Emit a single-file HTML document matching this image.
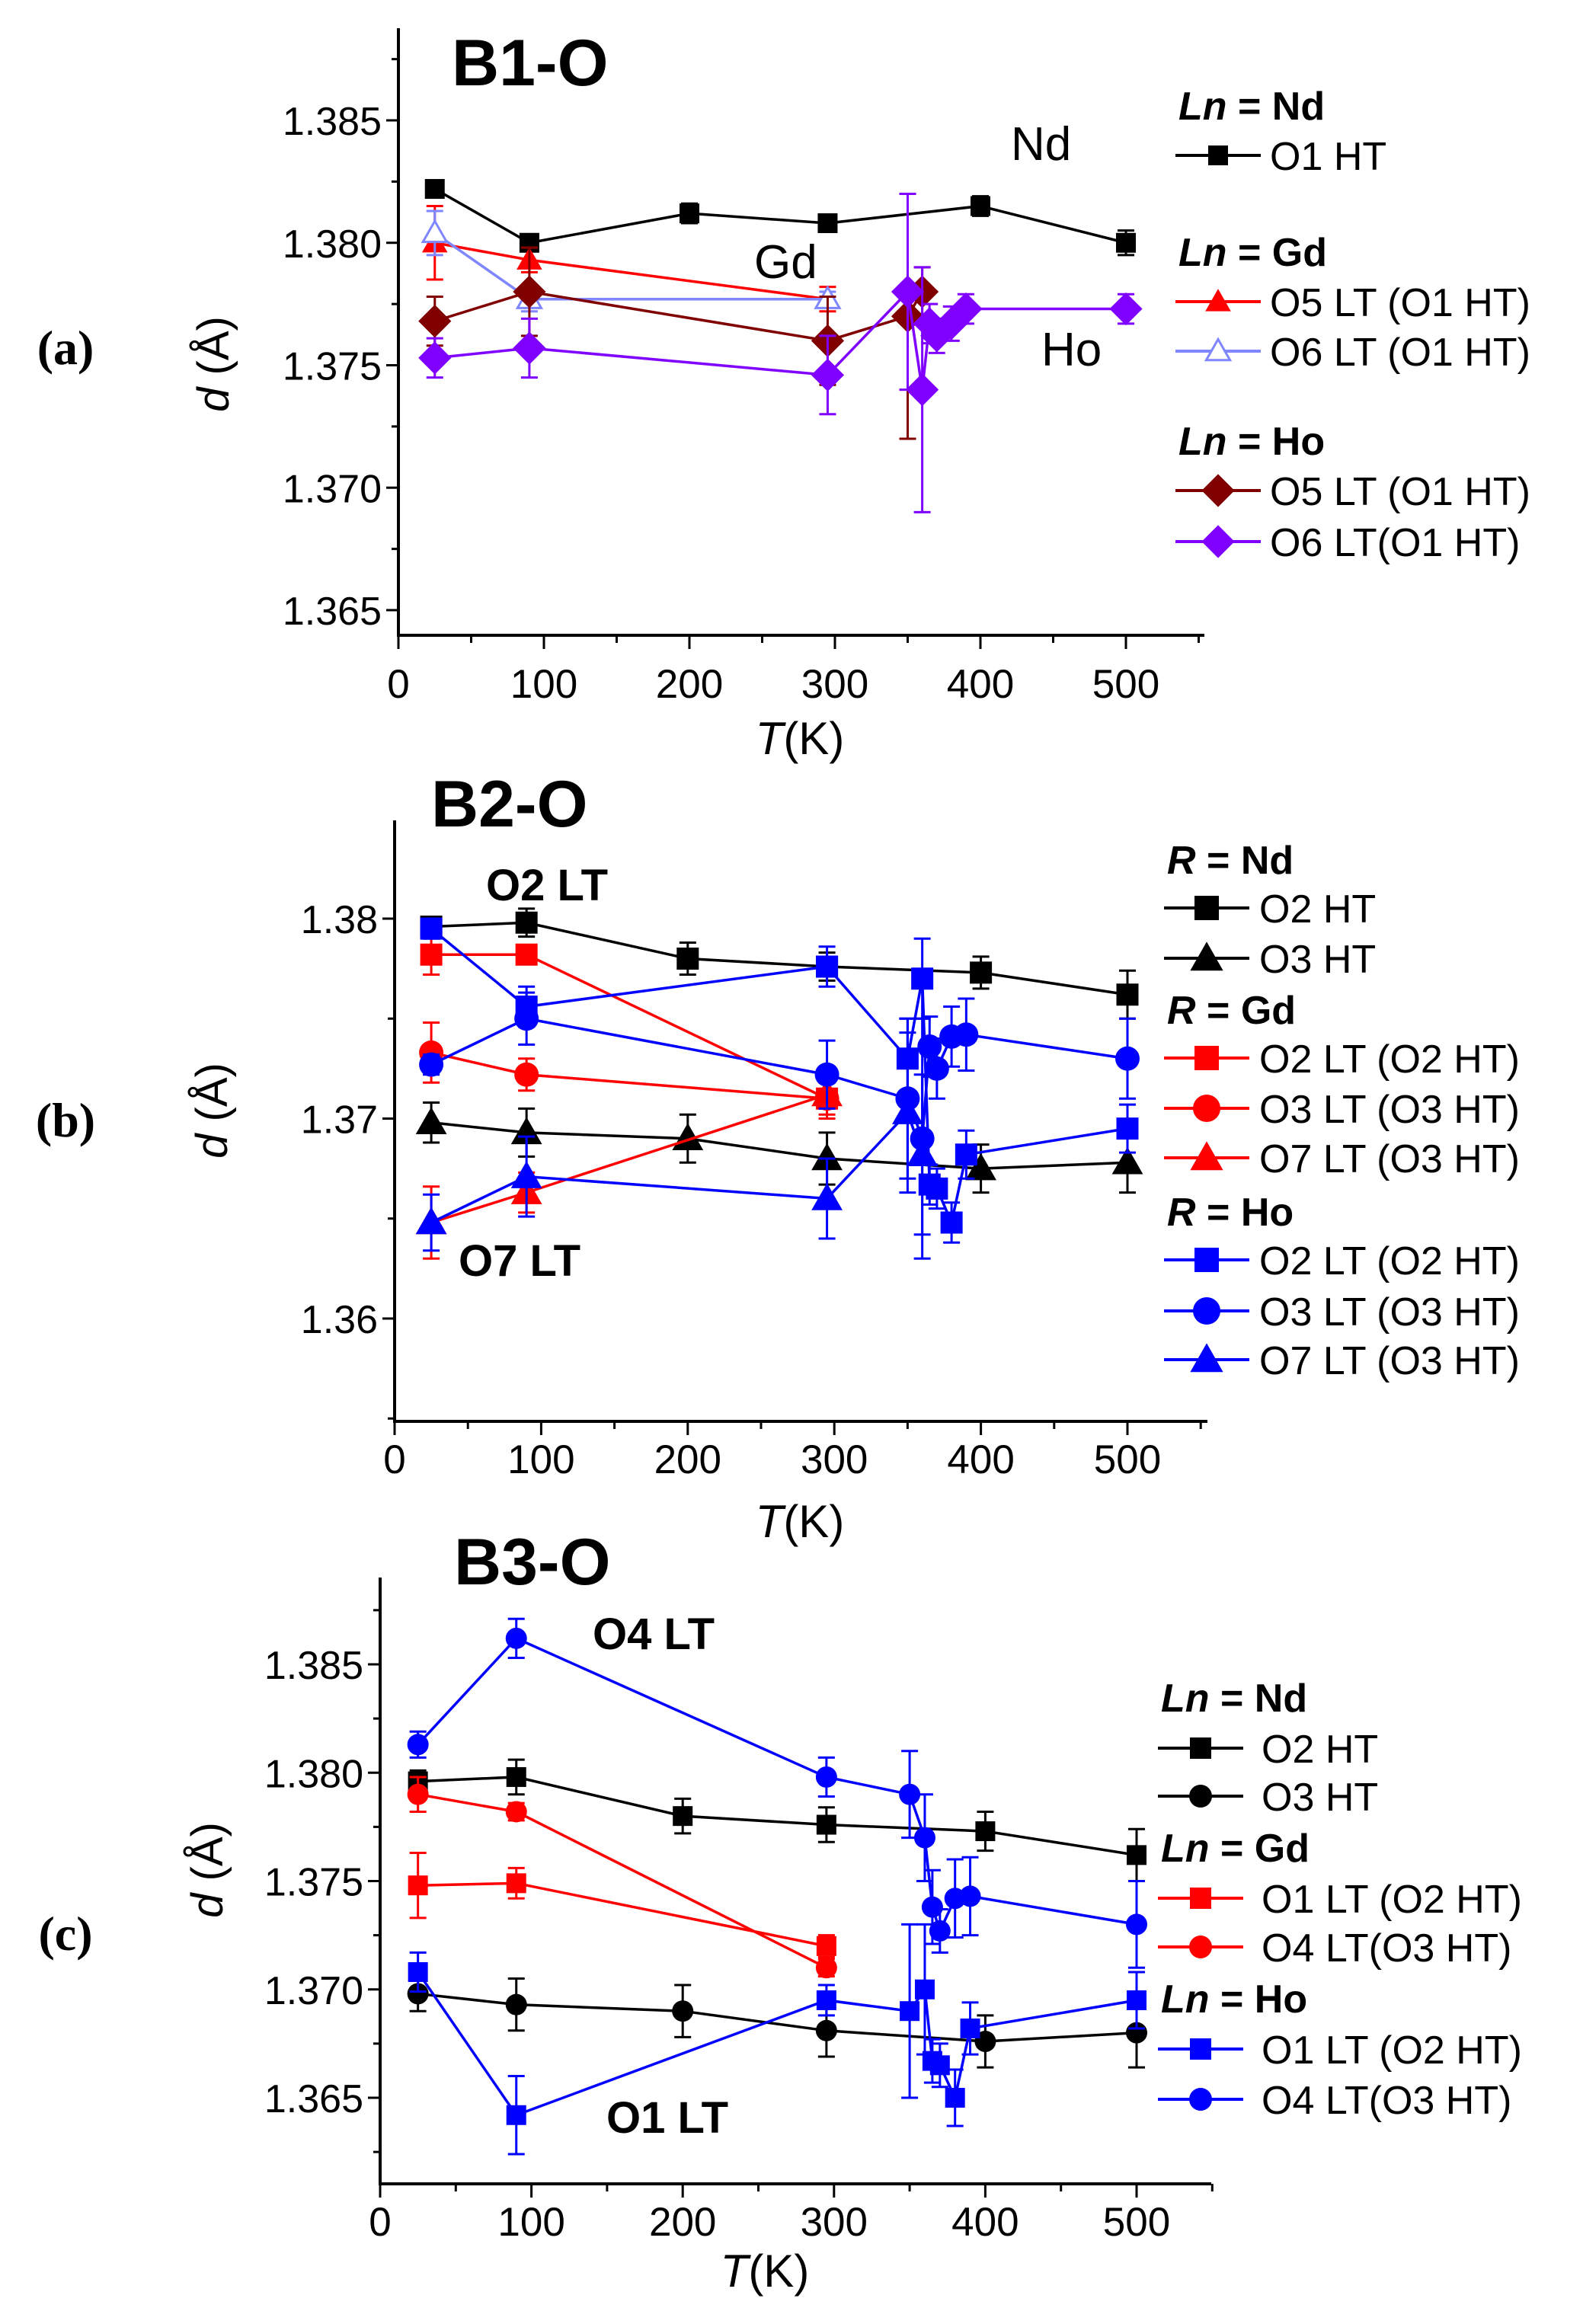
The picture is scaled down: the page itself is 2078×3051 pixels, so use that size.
<!DOCTYPE html>
<html><head><meta charset="utf-8">
<style>
html,body{margin:0;padding:0;background:#fff;}
svg{display:block;font-family:"Liberation Sans",Arial,sans-serif;}
</style></head>
<body>
<svg id="fig" width="2078" height="3051" viewBox="0 0 2078 3051" xmlns="http://www.w3.org/2000/svg">
<rect x="0" y="0" width="2078" height="3051" fill="#fff"/>
<g id="static">
  <text x="86" y="478" font-family="Liberation Serif,serif" font-weight="bold" font-size="64" text-anchor="middle">(a)</text>
  <text x="86" y="1492" font-family="Liberation Serif,serif" font-weight="bold" font-size="64" text-anchor="middle">(b)</text>
  <text x="86" y="2560" font-family="Liberation Serif,serif" font-weight="bold" font-size="64" text-anchor="middle">(c)</text>
  <text x="593" y="112" font-weight="bold" font-size="86">B1-O</text>
  <text x="566" y="1085" font-weight="bold" font-size="86">B2-O</text>
  <text x="596" y="2080" font-weight="bold" font-size="86">B3-O</text>
  <text x="1327" y="210" font-size="62">Nd</text>
  <text x="990" y="365" font-size="62">Gd</text>
  <text x="1367" y="480" font-size="62">Ho</text>
  <text x="638" y="1182" font-weight="bold" font-size="58">O2 LT</text>
  <text x="602" y="1675" font-weight="bold" font-size="58">O7 LT</text>
  <text x="778" y="2165" font-weight="bold" font-size="58">O4 LT</text>
  <text x="796" y="2800" font-weight="bold" font-size="58">O1 LT</text>
</g>
<g id="plot"></g>
</svg>
<script>
// ---------- data (T in K, d in Å) ----------
// Panel a
const aT_NdO1 = [25, 90, 200, 295, 400, 500];
const aD_NdO1 = [1.3822, 1.3800, 1.3812, 1.3808, 1.3815, 1.3800];
const aE_NdO1 = [0.0003, 0.0003, 0.0004, 0.0003, 0.0004, 0.0005];
const aT_GdO5 = [25, 90, 295];
const aD_GdO5 = [1.3800, 1.3793, 1.3777];
const aE_GdO5 = [0.0015, 0.0005, 0.0005];
const aT_GdO6 = [25, 90, 295];
const aD_GdO6 = [1.3804, 1.3777, 1.3777];
const aE_GdO6 = [0.0009, 0.0005, 0.0003];
const aT_HoO5 = [25, 90, 295, 350, 360];
const aD_HoO5 = [1.3768, 1.3780, 1.3760, 1.3770, 1.3780];
const aE_HoO5 = [0.0010, 0.0018, 0.0018, 0.0050, 0.0010];
const aT_HoO6 = [25, 90, 295, 350, 360, 365, 370, 380, 390, 500];
const aD_HoO6 = [1.3753, 1.3757, 1.3746, 1.3780, 1.3740, 1.3767, 1.3762, 1.3767, 1.3773, 1.3773];
const aE_HoO6 = [0.0008, 0.0012, 0.0016, 0.0040, 0.0050, 0.0008, 0.0007, 0.0007, 0.0006, 0.0006];
// Panel b
const bT_NdO2 = [25, 90, 200, 295, 400, 500];
const bD_NdO2 = [1.3796, 1.3798, 1.3780, 1.3776, 1.3773, 1.3762];
const bE_NdO2 = [0.0003, 0.0007, 0.0008, 0.0007, 0.0008, 0.0012];
const bT_NdO3 = [25, 90, 200, 295, 400, 500];
const bD_NdO3 = [1.3698, 1.3693, 1.3690, 1.3680, 1.3675, 1.3678];
const bE_NdO3 = [0.0010, 0.0012, 0.0012, 0.0013, 0.0012, 0.0015];
const bT_GdO2 = [25, 90, 295];
const bD_GdO2 = [1.3782, 1.3782, 1.3710];
const bE_GdO2 = [0.0010, 0.0004, 0.0010];
const bT_GdO3 = [25, 90, 295];
const bD_GdO3 = [1.3733, 1.3722, 1.3710];
const bE_GdO3 = [0.0015, 0.0008, 0.0008];
const bT_GdO7 = [25, 90, 295];
const bD_GdO7 = [1.3648, 1.3663, 1.3712];
const bE_GdO7 = [0.0018, 0.0010, 0.0006];
const bT_HoO2 = [25, 90, 295, 350, 360, 365, 370, 380, 390, 500];
const bD_HoO2 = [1.3795, 1.3756, 1.3776, 1.3730, 1.3770, 1.3667, 1.3665, 1.3648, 1.3682, 1.3695];
const bE_HoO2 = [0.0005, 0.0010, 0.0010, 0.0020, 0.0020, 0.0010, 0.0010, 0.0010, 0.0012, 0.0012];
const bT_HoO3 = [25, 90, 295, 350, 360, 365, 370, 380, 390, 500];
const bD_HoO3 = [1.3727, 1.3750, 1.3722, 1.3710, 1.3690, 1.3736, 1.3725, 1.3741, 1.3742, 1.3730];
const bE_HoO3 = [0.0005, 0.0013, 0.0017, 0.0040, 0.0060, 0.0015, 0.0015, 0.0015, 0.0018, 0.0020];
const bT_HoO7 = [25, 90, 295, 350, 360];
const bD_HoO7 = [1.3648, 1.3671, 1.3660, 1.3703, 1.3682];
const bE_HoO7 = [0.0014, 0.0020, 0.0020, 0.0040, 0.0040];
// Panel c
const cT_NdO2 = [25, 90, 200, 295, 400, 500];
const cD_NdO2 = [1.3796, 1.3798, 1.3780, 1.3776, 1.3773, 1.3762];
const cE_NdO2 = [0.0005, 0.0008, 0.0008, 0.0008, 0.0009, 0.0012];
const cT_NdO3 = [25, 90, 200, 295, 400, 500];
const cD_NdO3 = [1.3698, 1.3693, 1.3690, 1.3681, 1.3676, 1.3680];
const cE_NdO3 = [0.0008, 0.0012, 0.0012, 0.0012, 0.0012, 0.0016];
const cT_GdO1 = [25, 90, 295];
const cD_GdO1 = [1.3748, 1.3749, 1.3720];
const cE_GdO1 = [0.0015, 0.0007, 0.0005];
const cT_GdO4 = [25, 90, 295];
const cD_GdO4 = [1.3790, 1.3782, 1.3710];
const cE_GdO4 = [0.0008, 0.0004, 0.0004];
const cT_HoO1 = [25, 90, 295, 350, 360, 365, 370, 380, 390, 500];
const cD_HoO1 = [1.3708, 1.3642, 1.3695, 1.3690, 1.3700, 1.3667, 1.3665, 1.3650, 1.3682, 1.3695];
const cE_HoO1 = [0.0009, 0.0018, 0.0007, 0.0040, 0.0030, 0.0010, 0.0010, 0.0013, 0.0012, 0.0013];
const cT_HoO4 = [25, 90, 295, 350, 360, 365, 370, 380, 390, 500];
const cD_HoO4 = [1.3813, 1.3862, 1.3798, 1.3790, 1.3770, 1.3738, 1.3727, 1.3742, 1.3743, 1.3730];
const cE_HoO4 = [0.0006, 0.0009, 0.0009, 0.0020, 0.0020, 0.0017, 0.0010, 0.0018, 0.0018, 0.0020];
// tick labels
const xTicks = [0, 100, 200, 300, 400, 500];
const aYTicks = ["1.365", "1.370", "1.375", "1.380", "1.385"];
const bYTicks = ["1.36", "1.37", "1.38"];
const cYTicks = ["1.365", "1.370", "1.375", "1.380", "1.385"];

// ---------- layout ----------
const NS = "http://www.w3.org/2000/svg";
const plot = document.getElementById('plot');
function el(tag, attrs, parent) {
  const e = document.createElementNS(NS, tag);
  for (const k in attrs) e.setAttribute(k, attrs[k]);
  (parent || plot).appendChild(e);
  return e;
}
const panels = {
  a: {x0: 523, x500: 1478, xRight: 1581, top: 37, bottom: 834, yv1: 1.365, yp1: 801, yv2: 1.385, yp2: 158, ymaj: 0.005, ymin: 1.365, ymax: 1.3875, ticks: aYTicks, tickBase: 916, ylx: 300, yly: 478, xlx: 1050, xly: 990},
  b: {x0: 518, x500: 1480, xRight: 1585, top: 1077, bottom: 1866, yv1: 1.36, yp1: 1731, yv2: 1.38, yp2: 1206, ymaj: 0.01, ymin: 1.36, ymax: 1.385, ticks: bYTicks, tickBase: 1934, ylx: 298, yly: 1458, xlx: 1050, xly: 2018},
  c: {x0: 499, x500: 1492, xRight: 1590, top: 2071, bottom: 2867, yv1: 1.365, yp1: 2754, yv2: 1.385, yp2: 2185, ymaj: 0.005, ymin: 1.365, ymax: 1.3875, ticks: cYTicks, tickBase: 2935, ylx: 292, yly: 2455, xlx: 1004, xly: 3002}
};
function sx(p, t) { return p.x0 + (p.x500 - p.x0) * t / 500; }
function sy(p, d) { return p.yp1 + (p.yp2 - p.yp1) * (d - p.yv1) / (p.yv2 - p.yv1); }

// axes
for (const key in panels) {
  const p = panels[key];
  const g = el('g', {});
  
  
  el('line', {x1: p.x0, y1: p.top, x2: p.x0, y2: p.bottom, stroke: '#000', 'stroke-width': 4}, g);
  el('line', {x1: p.x0 - 2, y1: p.bottom, x2: p.xRight, y2: p.bottom, stroke: '#000', 'stroke-width': 4}, g);
  for (let t = 0; t <= 550; t += 50) {
    const major = t % 100 === 0;
    el('line', {x1: sx(p, t), y1: p.bottom, x2: sx(p, t), y2: p.bottom + (major ? 18 : 10), stroke: '#000', 'stroke-width': 3}, g);
  }
  xTicks.forEach(function (t) {
    const tx = el('text', {x: sx(p, t), y: p.tickBase, 'font-size': 53, 'text-anchor': 'middle'}, g);
    
    
    tx.textContent = String(t);
  });
  const step = p.ymaj / 2;
  for (let v = p.ymin - step * 2; v <= p.ymax + 1e-9; v += step) {
    const yy = sy(p, v);
    if (yy < p.top - 1 || yy > p.bottom - 2) continue;
    const major = Math.abs(Math.round(v / p.ymaj) * p.ymaj - v) < 1e-7;
    el('line', {x1: p.x0, y1: yy, x2: p.x0 - (major ? 16 : 9), y2: yy, stroke: '#000', 'stroke-width': 3}, g);
  }
  p.ticks.forEach(function (lab) {
    const tx = el('text', {x: p.x0 - 22, y: sy(p, parseFloat(lab)) + 19, 'font-size': 52, 'text-anchor': 'end'}, g);
    
    
    tx.textContent = lab;
  });
  const yl = el('text', {x: 0, y: 0, 'font-size': 58, 'text-anchor': 'middle', transform: 'translate(' + p.ylx + ',' + p.yly + ') rotate(-90)'}, g);
  
  
  yl.innerHTML = '<tspan font-style="italic">d</tspan> (Å)';
  const xl = el('text', {x: p.xlx, y: p.xly, 'font-size': 60, 'text-anchor': 'middle'}, g);
  
  
  xl.innerHTML = '<tspan font-style="italic">T</tspan>(K)';
}

// markers
function marker(g, shape, x, y, s, color, open) {
  const fill = open ? '#fff' : color;
  const sw = open ? 3 : 0;
  if (shape === 'sq') return el('rect', {x: x - s / 2, y: y - s / 2, width: s, height: s, fill: fill, stroke: color, 'stroke-width': sw}, g);
  if (shape === 'ci') return el('circle', {cx: x, cy: y, r: s / 2, fill: fill, stroke: color, 'stroke-width': sw}, g);
  if (shape === 'tr') return el('polygon', {points: (x) + ',' + (y - s * 0.6) + ' ' + (x - s * 0.6) + ',' + (y + s * 0.45) + ' ' + (x + s * 0.6) + ',' + (y + s * 0.45), fill: fill, stroke: color, 'stroke-width': sw}, g);
  if (shape === 'di') return el('polygon', {points: x + ',' + (y - s * 0.6) + ' ' + (x + s * 0.6) + ',' + y + ' ' + x + ',' + (y + s * 0.6) + ' ' + (x - s * 0.6) + ',' + y, fill: fill, stroke: color, 'stroke-width': sw}, g);
}

const series = [
  {p: 'a', n: 'nd-o1-ht', T: aT_NdO1, D: aD_NdO1, E: aE_NdO1, c: '#000000', m: 'sq', s: 26},
  {p: 'a', n: 'gd-o5-lt', T: aT_GdO5, D: aD_GdO5, E: aE_GdO5, c: '#ff0000', m: 'tr', s: 28},
  {p: 'a', n: 'gd-o6-lt', T: aT_GdO6, D: aD_GdO6, E: aE_GdO6, c: '#7f86ff', m: 'tr', s: 26, open: true},
  {p: 'a', n: 'ho-o5-lt', T: aT_HoO5, D: aD_HoO5, E: aE_HoO5, c: '#800000', m: 'di', s: 36},
  {p: 'a', n: 'ho-o6-lt', T: aT_HoO6, D: aD_HoO6, E: aE_HoO6, c: '#8000ff', m: 'di', s: 36},
  {p: 'b', n: 'nd-o2-ht', T: bT_NdO2, D: bD_NdO2, E: bE_NdO2, c: '#000000', m: 'sq', s: 29},
  {p: 'b', n: 'nd-o3-ht', T: bT_NdO3, D: bD_NdO3, E: bE_NdO3, c: '#000000', m: 'tr', s: 34},
  {p: 'b', n: 'gd-o2-lt', T: bT_GdO2, D: bD_GdO2, E: bE_GdO2, c: '#ff0000', m: 'sq', s: 29},
  {p: 'b', n: 'gd-o3-lt', T: bT_GdO3, D: bD_GdO3, E: bE_GdO3, c: '#ff0000', m: 'ci', s: 32},
  {p: 'b', n: 'gd-o7-lt', T: bT_GdO7, D: bD_GdO7, E: bE_GdO7, c: '#ff0000', m: 'tr', s: 34},
  {p: 'b', n: 'ho-o2-lt', T: bT_HoO2, D: bD_HoO2, E: bE_HoO2, c: '#0000ff', m: 'sq', s: 29},
  {p: 'b', n: 'ho-o3-lt', T: bT_HoO3, D: bD_HoO3, E: bE_HoO3, c: '#0000ff', m: 'ci', s: 32},
  {p: 'b', n: 'ho-o7-lt', T: bT_HoO7, D: bD_HoO7, E: bE_HoO7, c: '#0000ff', m: 'tr', s: 34},
  {p: 'c', n: 'nd-o2-ht', T: cT_NdO2, D: cD_NdO2, E: cE_NdO2, c: '#000000', m: 'sq', s: 26},
  {p: 'c', n: 'nd-o3-ht', T: cT_NdO3, D: cD_NdO3, E: cE_NdO3, c: '#000000', m: 'ci', s: 28},
  {p: 'c', n: 'gd-o1-lt', T: cT_GdO1, D: cD_GdO1, E: cE_GdO1, c: '#ff0000', m: 'sq', s: 26},
  {p: 'c', n: 'gd-o4-lt', T: cT_GdO4, D: cD_GdO4, E: cE_GdO4, c: '#ff0000', m: 'ci', s: 28},
  {p: 'c', n: 'ho-o1-lt', T: cT_HoO1, D: cD_HoO1, E: cE_HoO1, c: '#0000ff', m: 'sq', s: 26},
  {p: 'c', n: 'ho-o4-lt', T: cT_HoO4, D: cD_HoO4, E: cE_HoO4, c: '#0000ff', m: 'ci', s: 28}
];

series.forEach(function (sr) {
  const p = panels[sr.p];
  const g = el('g', {});
  
  
  const pts = sr.T.map(function (t, i) { return sx(p, t) + ',' + sy(p, sr.D[i]); }).join(' ');
  el('polyline', {points: pts, fill: 'none', stroke: sr.c, 'stroke-width': 3.5}, g);
  sr.T.forEach(function (t, i) {
    const x = sx(p, t), y1 = sy(p, sr.D[i] + sr.E[i]), y2 = sy(p, sr.D[i] - sr.E[i]);
    el('line', {x1: x, y1: y1, x2: x, y2: y2, stroke: sr.c, 'stroke-width': 3}, g);
    el('line', {x1: x - 11, y1: y1, x2: x + 11, y2: y1, stroke: sr.c, 'stroke-width': 3}, g);
    el('line', {x1: x - 11, y1: y2, x2: x + 11, y2: y2, stroke: sr.c, 'stroke-width': 3}, g);
  });
  sr.T.forEach(function (t, i) {
    const mk = marker(g, sr.m, sx(p, t), sy(p, sr.D[i]), sr.s, sr.c, sr.open);
    
    
  });
});

// legends
const legends = [
  {lx: 1543, tx: 1667, rows: [
    {h: 'Ln', v: 'Nd', y: 138},
    {t: 'O1 HT', y: 204, c: '#000', m: 'sq', s: 26},
    {h: 'Ln', v: 'Gd', y: 330},
    {t: 'O5 LT (O1 HT)', y: 396, c: '#ff0000', m: 'tr', s: 28},
    {t: 'O6 LT (O1 HT)', y: 461, c: '#7f86ff', m: 'tr', s: 26, open: true},
    {h: 'Ln', v: 'Ho', y: 578},
    {t: 'O5 LT (O1 HT)', y: 644, c: '#800000', m: 'di', s: 36},
    {t: 'O6 LT(O1 HT)', y: 711, c: '#8000ff', m: 'di', s: 36}]},
  {lx: 1528, tx: 1653, rows: [
    {h: 'R', v: 'Nd', y: 1128},
    {t: 'O2 HT', y: 1192, c: '#000', m: 'sq', s: 32},
    {t: 'O3 HT', y: 1258, c: '#000', m: 'tr', s: 36},
    {h: 'R', v: 'Gd', y: 1325},
    {t: 'O2 LT (O2 HT)', y: 1389, c: '#ff0000', m: 'sq', s: 32},
    {t: 'O3 LT (O3 HT)', y: 1455, c: '#ff0000', m: 'ci', s: 36},
    {t: 'O7 LT (O3 HT)', y: 1520, c: '#ff0000', m: 'tr', s: 36},
    {h: 'R', v: 'Ho', y: 1590},
    {t: 'O2 LT (O2 HT)', y: 1654, c: '#0000ff', m: 'sq', s: 32},
    {t: 'O3 LT (O3 HT)', y: 1721, c: '#0000ff', m: 'ci', s: 36},
    {t: 'O7 LT (O3 HT)', y: 1785, c: '#0000ff', m: 'tr', s: 36}]},
  {lx: 1520, tx: 1656, rows: [
    {h: 'Ln', v: 'Nd', y: 2228},
    {t: 'O2 HT', y: 2295, c: '#000', m: 'sq', s: 28},
    {t: 'O3 HT', y: 2358, c: '#000', m: 'ci', s: 30},
    {h: 'Ln', v: 'Gd', y: 2425},
    {t: 'O1 LT (O2 HT)', y: 2492, c: '#ff0000', m: 'sq', s: 28},
    {t: 'O4 LT(O3 HT)', y: 2556, c: '#ff0000', m: 'ci', s: 30},
    {h: 'Ln', v: 'Ho', y: 2623},
    {t: 'O1 LT (O2 HT)', y: 2690, c: '#0000ff', m: 'sq', s: 28},
    {t: 'O4 LT(O3 HT)', y: 2756, c: '#0000ff', m: 'ci', s: 30}]}
];
legends.forEach(function (L, li) {
  const g = el('g', {});
  
  
  L.rows.forEach(function (r) {
    if (r.h) {
      const tx = el('text', {x: L.lx + 4, y: r.y + 19, 'font-size': 52, 'font-weight': 'bold'}, g);
      
      
      tx.innerHTML = '<tspan font-style="italic">' + r.h + '</tspan> = ' + r.v;
    } else {
      el('line', {x1: L.lx, y1: r.y, x2: L.lx + 112, y2: r.y, stroke: r.c, 'stroke-width': 4}, g);
      marker(g, r.m, L.lx + 56, r.y, r.s, r.c, r.open);
      const tx = el('text', {x: L.tx, y: r.y + 19, 'font-size': 52}, g);
      
      
      tx.textContent = r.t;
    }
  });
});
</script>
</body></html>
